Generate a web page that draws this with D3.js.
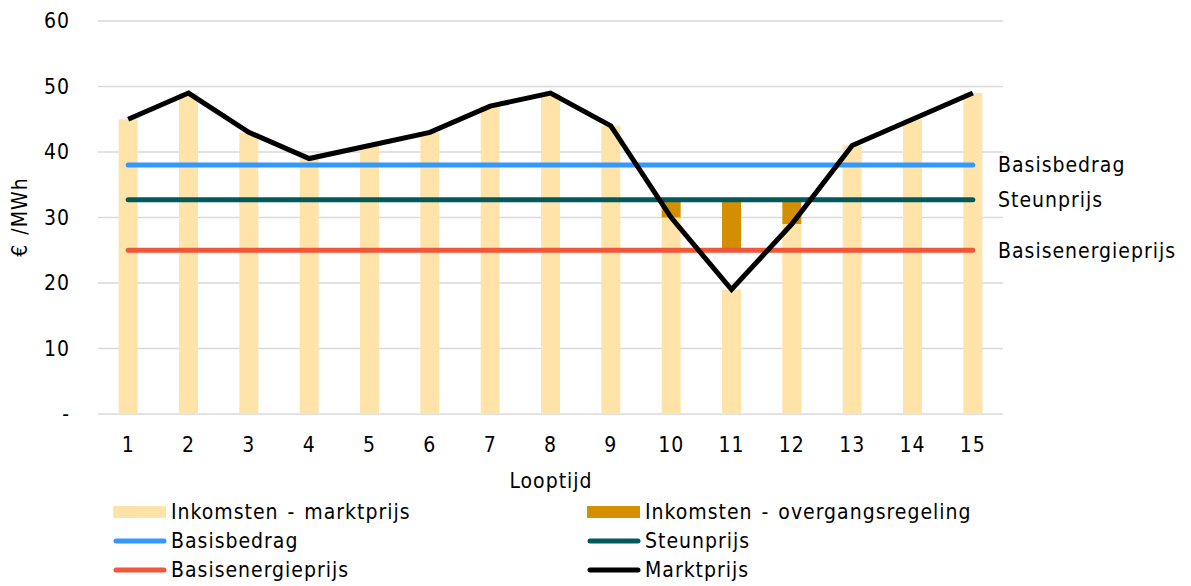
<!DOCTYPE html>
<html>
<head>
<meta charset="utf-8">
<script src="https://cdn.jsdelivr.net/npm/d3@7"></script>
<style>
  body { margin: 0; background: #fff; }
  svg text { font-family: "DejaVu Sans Condensed", "DejaVu Sans", sans-serif; fill: #000; letter-spacing: 1px; word-spacing: 2px; }
</style>
</head>
<body>
<svg id="chart" width="1191" height="586"></svg>
<script>
// Looptijd (years) and values in EUR/MWh
const looptijd = [1, 2, 3, 4, 5, 6, 7, 8, 9, 10, 11, 12, 13, 14, 15];
const marktprijs = [45, 49, 43, 39, 41, 43, 47, 49, 44, 30, 19, 29, 41, 45, 49];
const basisbedrag = 38;
const steunprijs = 32.7;
const basisenergieprijs = 25;
const yTicks = [0, 10, 20, 30, 40, 50, 60];

(function() {
  'use strict';

  const svg = d3.select('#chart');
  const margin = { left: 98, right: 188, top: 21, bottom: 172 };
  const width = 1191, height = 586;
  const fs = 21;

  const x = d3.scaleBand()
    .domain(looptijd)
    .range([margin.left, width - margin.right])
    .paddingInner(0.685)
    .paddingOuter(0.3425);

  const y = d3.scaleLinear()
    .domain([0, 60])
    .range([height - margin.bottom, margin.top]);

  const cx = d => x(d) + x.bandwidth() / 2;

  // gridlines
  svg.append('g')
    .selectAll('line')
    .data(yTicks)
    .enter()
    .append('line')
    .attr('x1', margin.left)
    .attr('x2', width - margin.right)
    .attr('y1', d => y(d))
    .attr('y2', d => y(d))
    .attr('stroke', '#d9d9d9')
    .attr('stroke-width', 1.5);

  // y tick labels
  svg.append('g')
    .selectAll('text')
    .data(yTicks)
    .enter()
    .append('text')
    .attr('x', 70)
    .attr('y', d => y(d))
    .attr('dy', '0.35em')
    .attr('text-anchor', 'end')
    .attr('font-size', fs)
    .text(d => d === 0 ? '-' : d);

  // x tick labels
  svg.append('g')
    .selectAll('text')
    .data(looptijd)
    .enter()
    .append('text')
    .attr('x', cx)
    .attr('y', 445)
    .attr('dy', '0.35em')
    .attr('text-anchor', 'middle')
    .attr('font-size', fs)
    .text(d => d);

  // axis titles
  svg.append('text')
    .attr('x', 551)
    .attr('y', 481)
    .attr('dy', '0.35em')
    .attr('text-anchor', 'middle')
    .attr('font-size', fs)
    .text('Looptijd');

  svg.append('text')
    .attr('transform', 'translate(20,217) rotate(-90)')
    .attr('dy', '0.35em')
    .attr('text-anchor', 'middle')
    .attr('font-size', fs)
    .text('€ /MWh');

  // market revenue bars
  svg.append('g')
    .selectAll('rect')
    .data(looptijd)
    .enter()
    .append('rect')
    .attr('x', d => x(d))
    .attr('width', x.bandwidth())
    .attr('y', (d, i) => y(marktprijs[i]))
    .attr('height', (d, i) => y(0) - y(marktprijs[i]))
    .attr('fill', '#ffe3a8');

  // transitional revenue: from max(market, base energy price) up to support price
  const overgang = looptijd
    .map((d, i) => ({ k: d, lo: Math.max(marktprijs[i], basisenergieprijs), hi: steunprijs }))
    .filter(o => o.lo < o.hi);

  svg.append('g')
    .selectAll('rect')
    .data(overgang)
    .enter()
    .append('rect')
    .attr('x', d => x(d.k))
    .attr('width', x.bandwidth())
    .attr('y', d => y(d.hi))
    .attr('height', d => y(d.lo) - y(d.hi))
    .attr('fill', '#d48f00');

  // horizontal price levels
  const levels = [
    { name: 'Basisbedrag', v: basisbedrag, color: '#3399ff' },
    { name: 'Steunprijs', v: steunprijs, color: '#005a5b' },
    { name: 'Basisenergieprijs', v: basisenergieprijs, color: '#f0563a' }
  ];

  const first = looptijd[0], last = looptijd[looptijd.length - 1];
  svg.append('g')
    .selectAll('line')
    .data(levels)
    .enter()
    .append('line')
    .attr('x1', cx(first))
    .attr('x2', cx(last))
    .attr('y1', d => y(d.v))
    .attr('y2', d => y(d.v))
    .attr('stroke', d => d.color)
    .attr('stroke-width', 5)
    .attr('stroke-linecap', 'round');

  // right-hand labels
  svg.append('g')
    .selectAll('text')
    .data(levels)
    .enter()
    .append('text')
    .attr('x', 998)
    .attr('y', d => y(d.v))
    .attr('dy', '0.35em')
    .attr('font-size', fs)
    .text(d => d.name);

  // market price line
  const line = d3.line()
    .x(d => cx(d))
    .y((d, i) => y(marktprijs[i]));

  svg.append('path')
    .datum(looptijd)
    .attr('d', line)
    .attr('fill', 'none')
    .attr('stroke', '#000')
    .attr('stroke-width', 5)
    .attr('stroke-linejoin', 'miter');

  // legend
  const legend = [
    { name: 'Inkomsten - marktprijs', type: 'rect', color: '#ffe3a8', col: 0, row: 0 },
    { name: 'Inkomsten - overgangsregeling', type: 'rect', color: '#d48f00', col: 1, row: 0 },
    { name: 'Basisbedrag', type: 'line', color: '#3399ff', col: 0, row: 1 },
    { name: 'Steunprijs', type: 'line', color: '#005a5b', col: 1, row: 1 },
    { name: 'Basisenergieprijs', type: 'line', color: '#f0563a', col: 0, row: 2 },
    { name: 'Marktprijs', type: 'line', color: '#000', col: 1, row: 2 }
  ];
  const colX = [113, 587];
  const rowY = [512, 541, 570];

  const lg = svg.append('g')
    .selectAll('g')
    .data(legend)
    .enter()
    .append('g')
    .attr('transform', d => `translate(${colX[d.col]},${rowY[d.row]})`);

  lg.filter(d => d.type === 'rect')
    .append('rect')
    .attr('x', 0)
    .attr('y', -6)
    .attr('width', 53)
    .attr('height', 12)
    .attr('fill', d => d.color);

  lg.filter(d => d.type === 'line')
    .append('line')
    .attr('x1', 3)
    .attr('x2', 51)
    .attr('stroke', d => d.color)
    .attr('stroke-width', 5)
    .attr('stroke-linecap', 'round');

  lg.append('text')
    .attr('x', 58)
    .attr('dy', '0.35em')
    .attr('font-size', fs)
    .text(d => d.name);
})();
</script>
</body>
</html>
